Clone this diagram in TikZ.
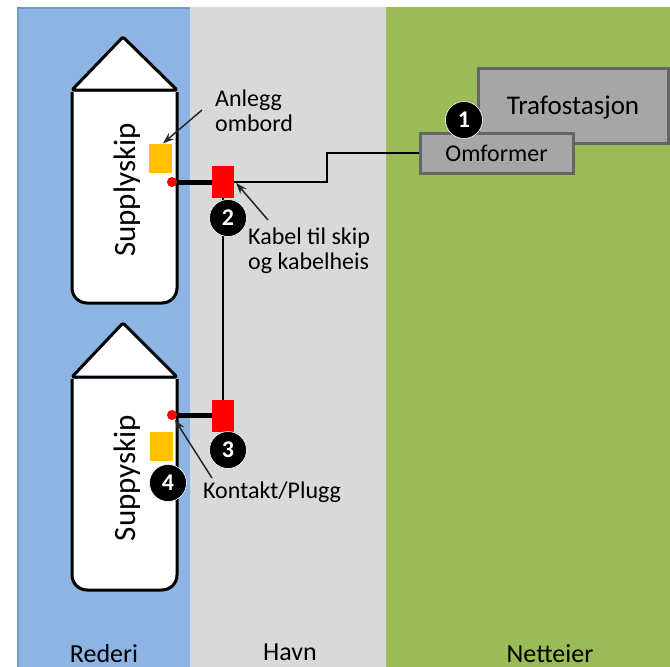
\documentclass[tikz,border=0pt]{standalone}
\usepackage{fontspec}
\setmainfont{Carlito}
\usetikzlibrary{arrows.meta,calc}
\definecolor{rblue}{HTML}{8EB4E3}
\definecolor{rbluedark}{HTML}{6E9AD0}
\definecolor{hgrey}{HTML}{D9D9D9}
\definecolor{ngreen}{HTML}{9BBB59}
\definecolor{boxgrey}{HTML}{A6A6A6}
\definecolor{boxedge}{HTML}{656565}
\definecolor{orng}{HTML}{FFC000}
\definecolor{arrcol}{HTML}{262626}
\begin{document}
\begin{tikzpicture}[x=1pt,y=-1pt,
  ship/.style={draw=black,line width=3pt,fill=white,line join=round},
  shiptext/.style={rotate=90,font=\fontsize{31}{31}\selectfont,inner sep=0pt},
  redbox/.style={fill=red,minimum width=22pt,minimum height=32pt,inner sep=0pt},
  orbox/.style={fill=orng,minimum width=23pt,minimum height=29pt,inner sep=0pt},
  reddot/.style={circle,fill=red,minimum size=10pt,inner sep=0pt},
  num/.style={circle,fill=black,draw=white,line width=0.6pt,minimum size=37pt,inner sep=0pt,text=white,font=\bfseries\fontsize{24}{24}\selectfont},
  gbox/.style={draw=boxedge,line width=3pt,fill=boxgrey,inner sep=0pt},
  lbl/.style={align=left,inner sep=0pt,font=\fontsize{24}{25}\selectfont},
  zone/.style={inner sep=0pt,font=\fontsize{26}{26}\selectfont,anchor=base},
  cable/.style={draw=black,line width=1.5pt},
  heavy/.style={draw=black,line width=5pt},
  arr/.style={draw=arrcol,line width=1.5pt,-{Stealth[length=11pt,width=8pt]}}
]
\useasboundingbox (0,0) rectangle (670,667);
\clip (0,0) rectangle (670,667);
\fill[white] (0,0) rectangle (670,667);
% zones
\fill[rblue] (17,7) rectangle (190,667);
\fill[hgrey] (190,7) rectangle (386,667);
\fill[ngreen] (386,7) rectangle (670,667);
\draw[rbluedark,line width=1.5pt] (17.75,667) -- (17.75,7.75) -- (190,7.75);
\node[zone] (zr) at (104,662) {Rederi};
\node[zone] (zh) at (290,660) {Havn};
\node[zone] (zn) at (550,662) {Netteier};

% ship 1
\filldraw[ship] (72,92) [rounded corners=15pt] -- (72,303) -- (177,303) -- (177,92);
\filldraw[ship,rounded corners=2pt] (72,90) -- (123,37) -- (177,90) -- cycle;
\node[shiptext] (s1) at (127,190) {Supplyskip};
% ship 2
\filldraw[ship] (72,379) [rounded corners=15pt] -- (72,590) -- (177,590) -- (177,379);
\filldraw[ship,rounded corners=2pt] (72,377) -- (123,323) -- (177,377) -- cycle;
\node[shiptext] (s2) at (127,478) {Suppyskip};

% equipment on board
\node[orbox] (o1) at (160,158) {};
\node[orbox] (o2) at (161.5,446.5) {};

% grid side boxes
\node[gbox,minimum width=190pt,minimum height=75pt] (trafo) at (573,105.5) {};
\node[font=\fontsize{27}{27}\selectfont,inner sep=0pt] (trafot) at (573,108) {Trafostasjon};
\node[gbox,minimum width=153pt,minimum height=40pt,font=\fontsize{24}{24}\selectfont] (omf) at (496.5,153) {Omformer};

% connectors
\node[redbox] (r1) at (223,182) {};
\node[redbox] (r2) at (223,416) {};
\node[reddot] (d1) at (172,182) {};
\node[reddot] (d2) at (172,415) {};
\coordinate (bend1) at (327,182);
\draw[heavy] (d1.east) -- (r1.west);
\draw[heavy] (d2.east) -- (r2.west |- d2.east);
\draw[cable] (r1.east) -- (bend1) |- (omf.west);
\draw[cable] (r1.south) -- (r2.north);

% numbered markers
\node[num] (c1) at (464,120) {1};
\node[num] (c2) at (228,218) {2};
\node[num] (c3) at (228,450) {3};
\node[num] (c4) at (168,483) {4};

% labels
\node[lbl,anchor=west] (la) at (215,110.5) {Anlegg\\ombord};
\node[lbl,anchor=west] (lk) at (248,250.5) {Kabel til skip\\og kabelheis};
\node[lbl,anchor=west] (lp) at (203,492) {Kontakt/Plugg};
\coordinate (a1s) at (202,110);
\coordinate (a2s) at (268,220);
\coordinate (a3s) at (212,478);
\draw[arr] (a1s) -- ($(o1.north)+(3,0)$);
\draw[arr] (a2s) -- ($(r1.east)+(2,1)$);
\draw[arr] (a3s) -- ($(d2.center)+(3,5)$);
\end{tikzpicture}
\end{document}
